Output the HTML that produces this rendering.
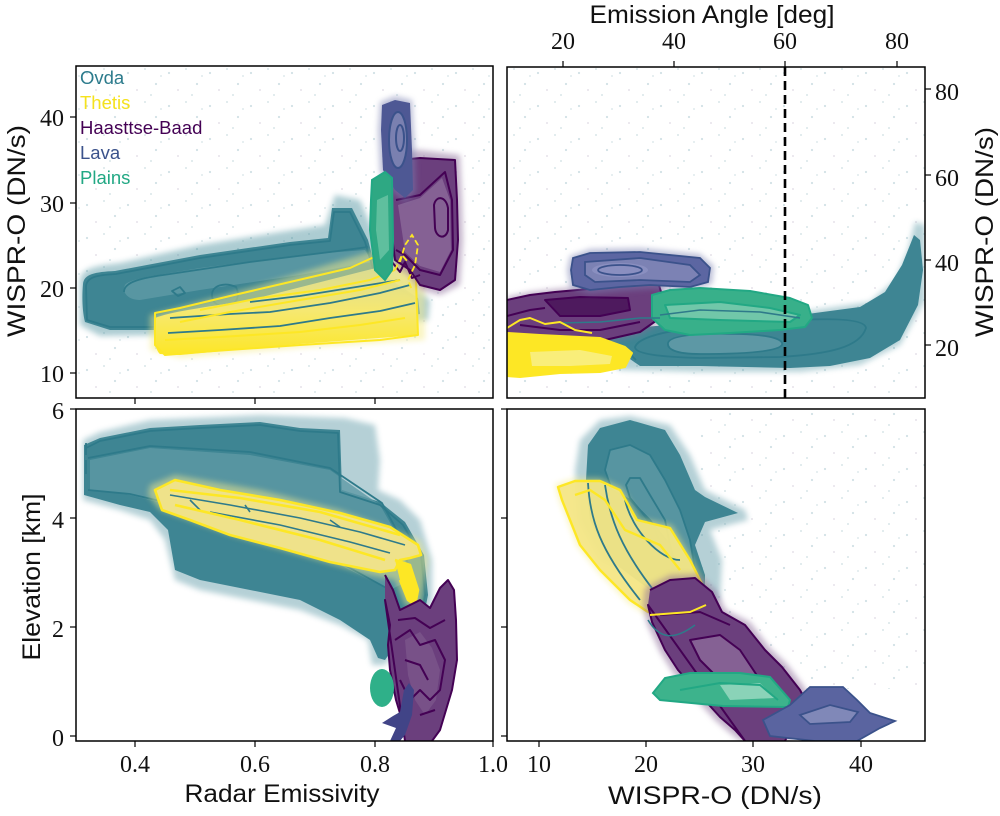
<!DOCTYPE html>
<html><head><meta charset="utf-8"><style>html,body{margin:0;padding:0;background:#fff}svg{display:block}</style></head>
<body>
<svg width="1000" height="816" viewBox="0 0 1000 816" xmlns="http://www.w3.org/2000/svg" font-family="'Liberation Sans', sans-serif">
<defs>
<filter id="b" x="-20%" y="-20%" width="140%" height="140%"><feGaussianBlur stdDeviation="3"/></filter>
<filter id="b2" x="-20%" y="-20%" width="140%" height="140%"><feGaussianBlur stdDeviation="1.2"/></filter>
<pattern id="dots" width="41" height="33" patternUnits="userSpaceOnUse">
<circle cx="5" cy="7" r="1.1" fill="#7fa9b3" opacity=".35"/><circle cx="22" cy="3" r="1" fill="#7fa9b3" opacity=".3"/>
<circle cx="33" cy="18" r="1.1" fill="#7fa9b3" opacity=".35"/><circle cx="14" cy="24" r="1" fill="#9a8aa8" opacity=".25"/>
<circle cx="28" cy="29" r="1" fill="#7fa9b3" opacity=".3"/><circle cx="38" cy="10" r="1" fill="#7fa9b3" opacity=".25"/>
</pattern>
<linearGradient id="gy" x1="0" y1="0" x2="0" y2="1"><stop offset="0" stop-color="#e9e49a" stop-opacity=".75"/><stop offset=".55" stop-color="#f6e870"/><stop offset="1" stop-color="#fde725"/></linearGradient>
<clipPath id="c1"><rect x="76" y="66" width="417" height="332"/></clipPath>
<clipPath id="c2"><rect x="507" y="67" width="418" height="331"/></clipPath>
<clipPath id="c3"><rect x="76" y="409" width="417" height="332"/></clipPath>
<clipPath id="c4"><rect x="507" y="409" width="418" height="332"/></clipPath>
</defs>

<!-- ================= TOP LEFT ================= -->
<g clip-path="url(#c1)">
<rect x="76" y="66" width="417" height="332" fill="url(#dots)"/>
<path d="M80,282 C80,268 95,266 120,263 L200,245 L280,232 L325,225 L335,195 L360,200 L375,235 L385,265 L430,300 L428,320 L380,325 L170,335 L100,336 L80,325 Z" fill="#4a8f9c" opacity=".45" filter="url(#b)"/>
<path d="M83,284 C84,274 95,272 115,271 L200,255 L290,242 L328,238 L332,208 L352,208 L368,240 L376,270 L418,298 L420,314 L380,320 L170,330 L110,330 L85,322 C82,310 82,295 83,284 Z" fill="#3e8593"/>
<path d="M125,285 C130,278 160,275 200,268 L300,255 L365,250 L372,262 L300,275 L200,290 L140,300 C127,300 122,292 125,285 Z" fill="#6aa1ac" opacity=".6"/>
<g fill="none" stroke="#2e7a8a" stroke-width="1.8" stroke-linejoin="round">
<path d="M86,286 C87,277 97,275 116,274 L200,258 L290,245 L330,241 L334,212 L350,212 L365,242 L374,272 L415,299 L417,312 L380,317 L170,327 L110,327 L87,320 Z"/>
<path d="M124,292 C124,282 140,278 170,274 L250,262 L330,252 L368,247"/>
<path d="M172,291 L180,287 L185,293 L178,296 Z"/>
<path d="M212,295 C212,285 225,282 236,287 C240,295 238,305 225,307 C215,306 212,300 212,295 Z"/>
</g>
<!-- Thetis -->
<path d="M150,315 L250,288 L370,252 L410,232 L425,230 L425,340 L300,348 L180,358 L150,350 Z" fill="#f5eb8a" opacity=".5" filter="url(#b)"/>
<path d="M155,318 C170,312 200,308 250,300 L360,272 L400,262 L417,258 L418,335 L300,344 L180,355 L160,354 C153,348 153,325 155,318 Z" fill="url(#gy)"/>
<g fill="none" stroke="#2e7a8a" stroke-width="1.8" stroke-linejoin="round">
<path d="M168,333 L220,330 L280,326 L330,318 L380,311 L415,303"/>
<path d="M170,318 L230,314 L270,312 L330,303 L380,293 L410,285"/>
<path d="M250,302 L300,296 L350,288 L400,280"/>
</g>
<g fill="none" stroke="#fde725" stroke-width="2" stroke-linejoin="round">
<path d="M155,313 L180,308 L230,296 L290,282 L350,268 L372,258 L400,250 L412,232 L418,240 L416,282 L418,335 L380,340 L300,345 L200,352 L165,355 L155,345 Z"/>
<path d="M165,340 L220,337 L300,332 L360,325 L405,318"/>
<path d="M180,322 L230,312 L300,300 L360,290 L400,280"/>
<path d="M200,310 L260,298 L320,290 L370,280 L395,270"/>
</g>
<!-- Haasttse-Baad -->
<path d="M388,165 L400,152 L420,150 L460,155 L462,200 L463,240 L460,285 L440,295 L420,290 L408,275 L392,265 L386,220 Z" fill="#8a6a98" opacity=".5" filter="url(#b)"/>
<path d="M392,170 L400,160 L420,158 L455,160 L457,200 L458,240 L455,280 L440,290 L420,285 L410,270 L395,260 L390,220 Z" fill="#6b3f7d"/>
<path d="M398,205 L420,198 L442,178 L450,200 L451,250 L440,272 L420,266 L405,252 Z" fill="#8c6a9a" opacity=".8"/>
<g fill="none" stroke="#440154" stroke-width="2" stroke-linejoin="round">
<path d="M392,170 L400,160 L420,158 L455,160 L457,200 L458,240 L455,280 L440,290 L420,285 L410,270 L395,260 L390,220 Z"/>
<path d="M396,200 L420,195 L445,172 L452,200 L453,250 L440,275 L420,270 L405,255 L396,250"/>
<path d="M434,205 C436,195 446,196 448,208 L448,230 C446,240 436,238 435,228 Z"/>
<path d="M392,262 L400,272 L405,262 L412,278 L420,275"/>
</g>
<!-- Lava -->
<path d="M380,102 L395,96 L412,100 L415,150 L416,192 L405,202 L393,193 L380,172 L378,130 Z" fill="#7a80b0" opacity=".5" filter="url(#b)"/>
<path d="M382,105 L395,100 L410,103 L412,150 L413,190 L405,198 L395,190 L383,170 L381,130 Z" fill="#4e5894"/>
<ellipse cx="398" cy="140" rx="9" ry="28" fill="#7a80b0"/>
<g fill="none" stroke="#3b528b" stroke-width="2"><ellipse cx="398" cy="140" rx="9" ry="28"/><ellipse cx="400" cy="138" rx="4" ry="13"/></g>
<!-- Plains -->
<path d="M372,180 L385,172 L392,178 L393,240 L392,270 L385,280 L375,270 L370,230 L371,200 Z" fill="#2ea883"/>
<path d="M377,200 L388,195 L389,250 L380,260 L376,230 Z" fill="#6cc4a5" opacity=".8"/>
<path d="M372,180 L385,172 L392,178 L393,240 L392,270 L385,280 L375,270 L370,230 L371,200 Z" fill="none" stroke="#22a884" stroke-width="2"/>
<g fill="none" stroke="#fde725" stroke-width="1.8" stroke-dasharray="6,3"><path d="M400,262 L405,245 L412,235 L418,245 L415,265 L408,280 L412,290"/><path d="M395,270 L402,255 L408,262"/></g>
</g>

<!-- ================= TOP RIGHT ================= -->
<g clip-path="url(#c2)">
<rect x="507" y="67" width="418" height="331" fill="url(#dots)"/>
<path d="M600,355 L640,330 L700,320 L800,312 L870,302 L895,280 L908,250 L915,222 L925,225 L925,300 L900,345 L860,365 L800,372 L700,372 L620,370 Z" fill="#4a8f9c" opacity=".4" filter="url(#b)"/>
<path d="M510,340 L560,330 L633,328 L700,322 L800,315 L860,307 L885,292 L902,265 L914,235 L920,240 L923,270 L918,305 L900,340 L870,358 L830,366 L790,368 L700,366 L640,366 L620,352 L580,345 L510,345 Z" fill="#3e8593"/>
<path d="M668,343 C670,335 700,333 740,334 C770,335 784,339 782,345 C777,352 740,354 700,354 C675,354 667,349 668,343 Z" fill="#5d98a5"/>
<g fill="none" stroke="#2e7a8a" stroke-width="1.8">
<path d="M668,343 C670,335 700,333 740,334 C770,335 784,339 782,345 C777,352 740,354 700,354 C675,354 667,349 668,343 Z"/>
<path d="M635,347 C640,332 700,324 800,320 C840,318 865,320 866,328 C860,347 830,354 780,357 L700,358 C660,357 635,354 635,347 Z"/>
</g>
<!-- purple -->
<path d="M507,297 L530,292 L555,289 L600,285 L640,281 L661,279 L665,295 L663,320 L652,328 L640,335 L605,343 L570,350 L540,343 L507,336 Z" fill="#8a6a98" opacity=".5" filter="url(#b)"/>
<path d="M507,300 L530,295 L555,292 L600,288 L640,284 L658,282 L662,295 L660,318 L650,325 L640,332 L605,340 L570,347 L540,340 L507,333 Z" fill="#6b3f7d"/>
<path d="M545,300 L580,297 L628,298 L630,310 L600,316 L560,316 Z" fill="#4e1a5e"/>
<g fill="none" stroke="#440154" stroke-width="2" stroke-linejoin="round">
<path d="M507,300 L530,295 L555,292 L600,288 L640,284 L658,282 L662,295 L660,318 L650,325 L640,332 L605,340 L570,347 L540,340 L507,333"/>
<path d="M545,300 L580,297 L628,298 L630,310 L600,316 L560,316 Z"/>
<path d="M507,316 L530,310 L545,308"/>
<path d="M520,325 L560,330 L600,330 L640,322"/>
</g>
<!-- lava -->
<path d="M570,256 L590,249 L640,248 L700,254 L714,266 L712,284 L690,291 L650,289 L620,291 L590,294 L570,288 L567,270 Z" fill="#7a80b0" opacity=".5" filter="url(#b)"/>
<path d="M573,258 L590,253 L640,252 L700,258 L710,268 L708,282 L690,287 L650,285 L620,287 L590,290 L573,285 L571,270 Z" fill="#5c66a2"/>
<path d="M585,262 L640,258 L690,265 L700,275 L690,282 L640,280 L595,282 L585,275 Z" fill="#7c82b4"/>
<ellipse cx="620" cy="270" rx="28" ry="7" fill="#8a8fc0"/>
<g fill="none" stroke="#3b528b" stroke-width="1.8">
<path d="M573,258 L590,253 L640,252 L700,258 L710,268 L708,282 L690,287 L650,285 L620,287 L590,290 L573,285 L571,270 Z"/>
<path d="M585,262 L640,258 L690,265 L700,275 L690,282 L640,280 L595,282 L585,275 Z"/>
<ellipse cx="620" cy="270" rx="22" ry="5"/>
</g>
<!-- plains -->
<path d="M652,295 L670,290 L700,288 L750,291 L790,298 L808,305 L812,318 L805,327 L780,330 L730,333 L690,335 L665,330 L652,318 Z" fill="#38b08a"/>
<path d="M665,305 L720,302 L770,308 L800,315 L790,322 L720,320 L670,318 Z" fill="#80cdb0" opacity=".8"/>
<g fill="none" stroke="#22a884" stroke-width="2" stroke-linejoin="round">
<path d="M652,295 L670,290 L700,288 L750,291 L790,298 L808,305 L812,318 L805,327 L780,330 L730,333 L690,335 L665,330 L652,318 Z"/>
<path d="M665,305 L720,302 L770,308 L800,315 L790,322 L720,320 L670,318 Z"/>
</g>
<g fill="none" stroke="#2e7a8a" stroke-width="1.6"><path d="M660,315 L700,310 L760,312 L800,318"/><path d="M560,323 L600,322 L640,318 L660,318"/><path d="M575,340 L600,346 L630,354 L636,360"/></g>
<!-- yellow -->
<path d="M507,333 L540,335 L600,338 L625,347 L632,353 L625,367 L600,372 L560,373 L520,377 L507,376 Z" fill="#fde725"/>
<path d="M530,352 L580,350 L612,356 L610,364 L570,366 L532,366 Z" fill="#f8ee8a" opacity=".85"/>
<g fill="none" stroke="#fde725" stroke-width="2" stroke-linejoin="round">
<path d="M507,328 L520,320 L530,318 L545,324 L560,322 L575,330 L592,333"/>
<path d="M507,333 L540,335 L600,338 L625,347 L632,353 L625,367 L600,372 L560,373 L520,377 L507,376"/>
</g>
<line x1="785" y1="67" x2="785" y2="398" stroke="#000" stroke-width="2.6" stroke-dasharray="9,5"/>
</g>

<!-- ================= BOTTOM LEFT ================= -->
<g clip-path="url(#c3)">
<path d="M83,440 L100,432 L150,420 L260,415 L345,418 L375,425 L380,460 L378,490 L400,500 L420,520 L432,560 L432,600 L422,630 L400,645 L385,665 L372,665 L368,640 L340,625 L300,610 L250,600 L200,590 L175,580 L165,540 L150,520 L120,510 L83,500 Z" fill="#5c98a5" opacity=".45" filter="url(#b)"/>
<path d="M84,445 L100,438 L150,428 L200,425 L260,422 L300,428 L340,430 L342,490 L380,502 L405,522 L424,555 L428,595 L422,625 L410,640 L392,650 L385,660 L378,658 L370,640 L340,620 L300,600 L250,590 L200,580 L175,570 L168,530 L150,512 L120,505 L84,495 Z" fill="#3e8593"/>
<path d="M90,460 L150,448 L250,455 L330,470 L380,505 L400,540 L410,580 L390,590 L350,570 L300,545 L250,530 L190,510 L130,495 L90,490 Z" fill="#5e98a5" opacity=".8"/>
<g fill="none" stroke="#2e7a8a" stroke-width="1.8" stroke-linejoin="round">
<path d="M86,448 L100,441 L150,431 L200,428 L260,425 L300,431 L338,433 L340,492 L380,505 L403,525 L421,556 L425,595 L419,623 L408,637"/>
<path d="M88,458 L150,446 L250,452 L330,468 L382,503 L402,540 L412,582"/>
<path d="M88,490 L130,494 L190,508 L250,528 L300,543 L350,568 L390,590"/>
<path d="M86,443 L86,455 M86,460 L86,474"/>
</g>
<!-- Thetis -->
<path d="M150,485 L175,475 L260,490 L340,510 L420,540 L428,560 L420,610 L405,605 L395,580 L370,575 L300,555 L230,535 L160,510 L148,495 Z" fill="#f5eb8a" opacity=".5" filter="url(#b)"/>
<path d="M155,490 L175,480 L220,490 L280,500 L340,513 L390,527 L418,545 L421,555 L410,558 L400,560 L395,570 L380,572 L330,562 L280,548 L230,535 L190,520 L162,510 Z" fill="#efe28a"/>
<path d="M395,560 L410,565 L418,590 L415,605 L408,600 L400,580 Z" fill="#fde725"/>
<g fill="none" stroke="#2e7a8a" stroke-width="1.6" stroke-linejoin="round">
<path d="M170,495 L230,505 L300,518 L360,532 L405,545"/>
<path d="M210,512 L280,525 L350,542 L390,553"/>
<path d="M190,500 L200,510 M245,505 L250,512 M330,520 L340,527"/>
</g>
<g fill="none" stroke="#fde725" stroke-width="2.6" stroke-linejoin="round">
<path d="M155,490 L175,480 L220,490 L280,500 L340,513 L390,527 L418,545 L421,555 L410,558 L400,560 L395,570 L380,572 L330,562 L280,548 L230,535 L190,520 L162,510 Z"/>
<path d="M170,490 L240,498 L320,512 L400,535"/>
<path d="M175,505 L240,520 L320,540 L385,560"/>
<path d="M395,560 L410,565 L418,590 L415,605 L408,600 L400,580"/>
</g>
<!-- purple -->
<path d="M385,575 L393,590 L400,610 L410,605 L420,600 L430,608 L440,588 L448,580 L454,590 L456,620 L457,660 L452,690 L446,710 L440,730 L432,741 L405,741 L402,720 L396,700 L390,670 L388,645 L390,625 L385,600 Z" fill="#6b3f7d"/>
<path d="M405,640 L420,632 L432,648 L440,670 L436,700 L425,715 L415,700 L408,675 Z" fill="#7d5a8d" opacity=".7"/>
<g fill="none" stroke="#440154" stroke-width="2" stroke-linejoin="round">
<path d="M385,575 L393,590 L400,610 L410,605 L420,600 L430,608 L440,588 L448,580 L454,590 L456,620 L457,660 L452,690 L446,710 L440,730 L432,741 M405,741 L402,720 L396,700 L390,670 L388,645 L390,625 L385,600 Z"/>
<path d="M395,640 L410,630 L420,645 L435,640 L445,660 L440,690 L430,700 L420,690 L410,700 L400,680"/>
<path d="M405,660 L420,665 L428,680 M420,715 L435,710 M398,620 L415,618 L430,628 L445,620"/>
</g>
<!-- lava -->
<path d="M382,723 L393,716 L400,712 L404,690 L409,683 L414,690 L412,715 L405,735 L400,741 L390,741 L396,728 Z" fill="#414487"/>
<!-- plains -->
<ellipse cx="382" cy="688" rx="12" ry="19" fill="#2fb089"/>
</g>

<!-- ================= BOTTOM RIGHT ================= -->
<g clip-path="url(#c4)">
<rect x="700" y="409" width="225" height="280" fill="url(#dots)"/>
<path d="M580,440 L600,420 L630,416 L670,425 L690,455 L705,490 L745,510 L748,520 L710,530 L722,560 L720,600 L700,610 L600,560 L578,520 L575,470 Z" fill="#5c98a5" opacity=".45" filter="url(#b)"/>
<path d="M588,445 L600,428 L630,420 L665,430 L680,455 L695,490 L705,497 L738,513 L705,522 L695,545 L705,575 L705,600 L690,600 L650,590 L610,560 L590,520 L586,480 Z" fill="#3e8593"/>
<path d="M605,470 L610,450 L630,445 L650,455 L665,480 L680,510 L690,540 L695,570 L690,590 L680,580 L670,545 L650,520 L630,500 L612,490 Z" fill="#5e98a5" opacity=".8"/>
<g fill="none" stroke="#2e7a8a" stroke-width="1.8" stroke-linejoin="round">
<path d="M605,470 L610,450 L630,445 L650,455 L665,480 L680,510 L690,540 L695,570 L690,590 L680,580 L670,545 L650,520 L630,500 L612,490 Z"/>
<path d="M626,485 L630,478 L640,478 L650,495 L665,520 L670,545 L665,555 L655,530 L640,510 L630,498 Z"/>
</g>
<!-- yellow -->
<path d="M555,484 L575,478 L600,478 L622,488 L640,518 L672,525 L693,560 L703,580 L716,606 L706,616 L665,615 L646,615 L628,603 L598,572 L577,546 L567,520 L559,500 Z" fill="#f5eb8a" opacity=".5" filter="url(#b)"/>
<path d="M558,487 L575,481 L600,481 L620,490 L637,520 L670,528 L690,560 L700,580 L713,605 L705,613 L665,612 L648,612 L630,600 L600,570 L580,545 L570,520 L562,500 Z" fill="#f4e685" opacity=".9"/>
<g fill="none" stroke="#2e7a8a" stroke-width="1.8">
<path d="M588,483 C590,520 600,550 640,600"/>
<path d="M605,485 C610,520 622,550 655,592"/>
<path d="M625,500 C632,530 660,560 680,560"/>
</g>
<g fill="none" stroke="#fde725" stroke-width="2.4" stroke-linejoin="round">
<path d="M558,487 L575,481 L600,481 L620,490 L637,520 L670,528 L690,560 L700,580 L713,605 L705,613 L665,612 L648,612 L630,600 L600,570 L580,545 L570,520 L562,500 Z"/>
<path d="M575,495 L590,490 L605,500 L625,530 L660,545 L680,570"/>
<path d="M665,595 L690,590 L705,605"/>
</g>
<!-- purple -->
<path d="M645,588 L670,575 L698,574 L716,590 L726,610 L750,622 L770,648 L787,664 L805,688 L813,706 L800,724 L790,741 L740,741 L730,733 L715,720 L695,698 L673,673 L660,652 L647,624 L643,605 Z" fill="#8a6a98" opacity=".5" filter="url(#b)"/>
<path d="M650,590 L670,580 L695,578 L712,592 L722,612 L745,625 L765,650 L782,667 L800,690 L808,705 L795,720 L785,741 L745,741 L735,730 L720,717 L700,695 L678,670 L665,650 L652,622 L648,605 Z" fill="#6b3f7d"/>
<path d="M690,640 L720,635 L740,650 L760,680 L765,700 L745,700 L720,680 L700,660 Z" fill="#8c6a9a" opacity=".8"/>
<g fill="none" stroke="#440154" stroke-width="2" stroke-linejoin="round">
<path d="M650,590 L670,580 L695,578 L712,592 L722,612 L745,625 L765,650 L782,667 L800,690 L808,705 L795,720 L785,741 M745,741 L735,730 L720,717 L700,695 L678,670 L665,650 L652,622 L648,605 Z"/>
<path d="M690,640 L720,635 L740,650 L760,680 L765,700 L745,700 L720,680 L700,660 Z"/>
<path d="M660,615 L700,612 L730,625"/>
</g>
<path d="M650,615 L690,612 L706,605" fill="none" stroke="#fde725" stroke-width="2"/>
<path d="M648,620 C660,640 675,640 695,625" fill="none" stroke="#2e7a8a" stroke-width="1.6"/>
<!-- plains -->
<path d="M653,693 L665,678 L690,673 L740,673 L770,677 L790,700 L788,707 L723,706 L660,700 Z" fill="#3db38c"/>
<path d="M720,685 L760,683 L775,698 L730,700 Z" fill="#8ad3b8"/>
<g fill="none" stroke="#22a884" stroke-width="2"><path d="M653,693 L665,678 L690,673 L740,673 L770,677 L790,700 L788,707 L723,706 L660,700 Z"/><path d="M680,690 L720,683 L760,685 L778,700"/></g>
<!-- lava -->
<path d="M763,720 L790,705 L810,687 L843,687 L857,700 L870,713 L895,721 L880,728 L857,741 L815,741 L770,736 Z" fill="#5a64a0"/>
<path d="M800,715 L830,705 L858,712 L850,722 L810,724 Z" fill="#8088b8"/>
<g fill="none" stroke="#3b528b" stroke-width="1.8"><path d="M763,720 L790,705 L810,687 L843,687 L857,700 L870,713 L895,721 L880,728 L857,741 L815,741 L770,736 Z"/><path d="M800,715 L830,705 L858,712 L850,722 L810,724 Z"/></g>
</g>

<!-- ================= FRAMES & TICKS ================= -->
<g fill="none" stroke="#000" stroke-width="1.5">
<rect x="76" y="66" width="417" height="332"/>
<rect x="507" y="67" width="418" height="331"/>
<rect x="76" y="409" width="417" height="332"/>
<rect x="507" y="409" width="418" height="332"/>
</g>
<g stroke="#000" stroke-width="1.2">
<line x1="70" y1="117" x2="76" y2="117"/><line x1="70" y1="203" x2="76" y2="203"/><line x1="70" y1="288" x2="76" y2="288"/><line x1="70" y1="373" x2="76" y2="373"/>
<line x1="135" y1="398" x2="135" y2="404"/><line x1="255" y1="398" x2="255" y2="404"/><line x1="375" y1="398" x2="375" y2="404"/>
<line x1="563" y1="61" x2="563" y2="67"/><line x1="674" y1="61" x2="674" y2="67"/><line x1="785" y1="61" x2="785" y2="67"/><line x1="897" y1="61" x2="897" y2="67"/>
<line x1="925" y1="89" x2="931" y2="89"/><line x1="925" y1="175" x2="931" y2="175"/><line x1="925" y1="260" x2="931" y2="260"/><line x1="925" y1="345" x2="931" y2="345"/>
<line x1="70" y1="409" x2="76" y2="409"/><line x1="70" y1="518" x2="76" y2="518"/><line x1="70" y1="627" x2="76" y2="627"/><line x1="70" y1="736" x2="76" y2="736"/>
<line x1="135" y1="741" x2="135" y2="747"/><line x1="255" y1="741" x2="255" y2="747"/><line x1="375" y1="741" x2="375" y2="747"/><line x1="493" y1="741" x2="493" y2="747"/>
<line x1="501" y1="409" x2="507" y2="409"/><line x1="501" y1="518" x2="507" y2="518"/><line x1="501" y1="627" x2="507" y2="627"/><line x1="501" y1="736" x2="507" y2="736"/>
<line x1="539" y1="741" x2="539" y2="747"/><line x1="646" y1="741" x2="646" y2="747"/><line x1="753" y1="741" x2="753" y2="747"/><line x1="861" y1="741" x2="861" y2="747"/>
</g>

<!-- ================= TICK LABELS ================= -->
<g font-family="'Liberation Serif', serif" font-size="24" fill="#111">
<g text-anchor="end">
<text x="64" y="126">40</text><text x="64" y="212">30</text><text x="64" y="297">20</text><text x="64" y="382">10</text>
<text x="64" y="419">6</text><text x="64" y="528">4</text><text x="64" y="637">2</text><text x="64" y="746">0</text>
</g>
<g text-anchor="middle">
<text x="135" y="772">0.4</text><text x="255" y="772">0.6</text><text x="375" y="772">0.8</text><text x="493" y="772">1.0</text>
<text x="539" y="772">10</text><text x="646" y="772">20</text><text x="753" y="772">30</text><text x="861" y="772">40</text>
<text x="563" y="49">20</text><text x="674" y="49">40</text><text x="785" y="49">60</text><text x="897" y="49">80</text>
</g>
<g text-anchor="start">
<text x="935" y="100">80</text><text x="935" y="186">60</text><text x="935" y="271">40</text><text x="935" y="356">20</text>
</g>
</g>

<!-- ================= AXIS LABELS ================= -->
<g font-size="25" fill="#111" text-anchor="middle">
<text transform="translate(25,231) rotate(-90)" textLength="212" lengthAdjust="spacingAndGlyphs">WISPR-O (DN/s)</text>
<text transform="translate(40,577) rotate(-90)" textLength="167" lengthAdjust="spacingAndGlyphs">Elevation [km]</text>
<text transform="translate(993,232) rotate(-90)" textLength="210" lengthAdjust="spacingAndGlyphs">WISPR-O (DN/s)</text>
<text x="282" y="802" textLength="195" lengthAdjust="spacingAndGlyphs">Radar Emissivity</text>
<text x="715" y="804" textLength="214" lengthAdjust="spacingAndGlyphs">WISPR-O (DN/s)</text>
<text x="712" y="23" textLength="245" lengthAdjust="spacingAndGlyphs">Emission Angle [deg]</text>
</g>

<!-- ================= LEGEND ================= -->
<g font-size="18.5">
<text x="80" y="84" fill="#2c7b8c">Ovda</text>
<text x="80" y="109" fill="#f5e21e">Thetis</text>
<text x="80" y="134" fill="#440154">Haasttse-Baad</text>
<text x="80" y="159" fill="#3b528b">Lava</text>
<text x="80" y="184" fill="#22a884">Plains</text>
</g>
</svg>
</body></html>
